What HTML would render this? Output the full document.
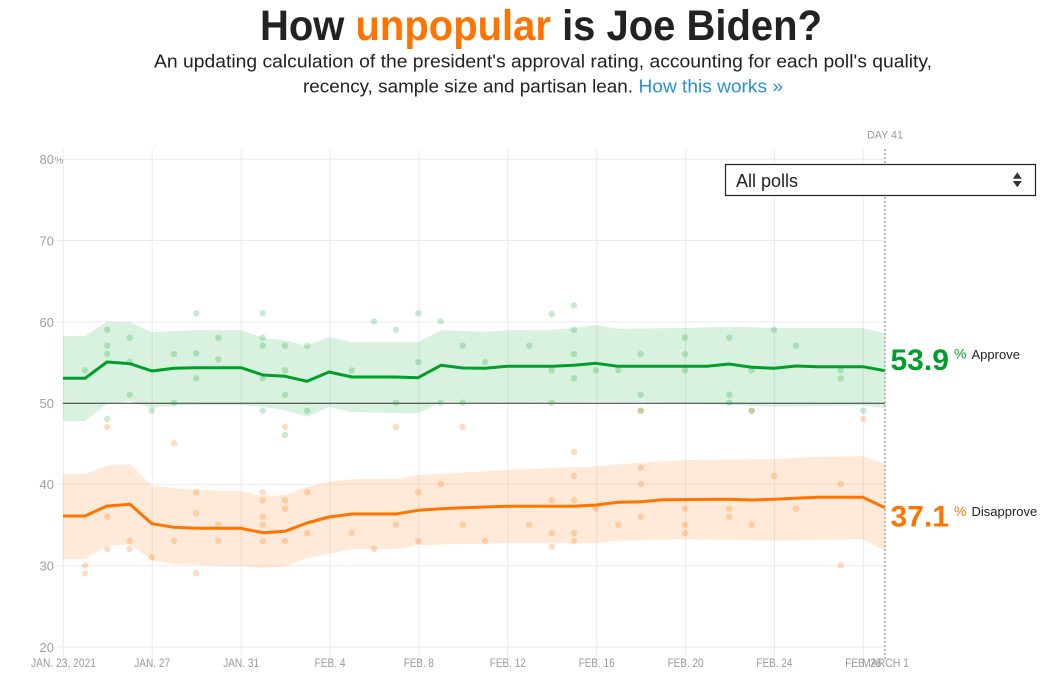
<!DOCTYPE html>
<html><head><meta charset="utf-8"><style>
html,body{margin:0;padding:0;background:#fff;}
svg{display:block;font-family:"Liberation Sans",Arial,sans-serif;}
</style></head><body>
<svg width="1050" height="679" viewBox="0 0 1050 679" xmlns="http://www.w3.org/2000/svg">
<rect width="1050" height="679" fill="#fff"/>
<!-- Title -->
<text transform="translate(260,40) scale(0.93,1)" x="0" y="0" font-size="43" font-weight="bold" fill="#222">How <tspan fill="#ff7400">unpopular</tspan> is Joe Biden?</text>
<text x="154" y="67.5" font-size="18" fill="#222" textLength="778" lengthAdjust="spacingAndGlyphs">An updating calculation of the president's approval rating, accounting for each poll's quality,</text>
<text x="303" y="92.5" font-size="18" fill="#222" textLength="330" lengthAdjust="spacingAndGlyphs">recency, sample size and partisan lean.</text>
<text x="638.5" y="92.5" font-size="18" fill="#2a8fd8" textLength="144.5" lengthAdjust="spacingAndGlyphs">How this works »</text>

<!-- grid -->
<g stroke="#ebebeb" stroke-width="1">
<line x1="63.3" y1="149" x2="63.3" y2="657"/>
<line x1="152.2" y1="149" x2="152.2" y2="657"/>
<line x1="241.1" y1="149" x2="241.1" y2="657"/>
<line x1="330" y1="149" x2="330" y2="657"/>
<line x1="418.9" y1="149" x2="418.9" y2="657"/>
<line x1="507.8" y1="149" x2="507.8" y2="657"/>
<line x1="596.7" y1="149" x2="596.7" y2="657"/>
<line x1="685.6" y1="149" x2="685.6" y2="657"/>
<line x1="774.4" y1="149" x2="774.4" y2="657"/>
<line x1="863.3" y1="149" x2="863.3" y2="657"/>
<line x1="57" y1="159.3" x2="885" y2="159.3"/>
<line x1="57" y1="240.5" x2="885" y2="240.5"/>
<line x1="57" y1="322" x2="885" y2="322"/>
<line x1="57" y1="484.3" x2="885" y2="484.3"/>
<line x1="57" y1="565.8" x2="885" y2="565.8"/>
<line x1="57" y1="647" x2="885" y2="647"/>
</g>

<!-- y labels -->
<g font-size="13" fill="#a0a0a0" text-anchor="end">
<text x="54" y="164.2">80</text>
<text x="54" y="245.3">70</text>
<text x="54" y="326.8">60</text>
<text x="54" y="408.1">50</text>
<text x="54" y="489.1">40</text>
<text x="54" y="570.6">30</text>
<text x="54" y="651.8">20</text>
</g>
<text x="54.5" y="163.5" font-size="10" fill="#a0a0a0">%</text>

<!-- x labels -->
<g font-size="12" fill="#9a9a9a" text-anchor="middle" lengthAdjust="spacingAndGlyphs">
<text x="63.5" y="667" textLength="65" lengthAdjust="spacingAndGlyphs">JAN. 23, 2021</text>
<text x="152.2" y="667" textLength="36" lengthAdjust="spacingAndGlyphs">JAN. 27</text>
<text x="241.1" y="667" textLength="36" lengthAdjust="spacingAndGlyphs">JAN. 31</text>
<text x="330" y="667" textLength="31" lengthAdjust="spacingAndGlyphs">FEB. 4</text>
<text x="418.9" y="667" textLength="30" lengthAdjust="spacingAndGlyphs">FEB. 8</text>
<text x="507.8" y="667" textLength="36" lengthAdjust="spacingAndGlyphs">FEB. 12</text>
<text x="596.7" y="667" textLength="36" lengthAdjust="spacingAndGlyphs">FEB. 16</text>
<text x="685.6" y="667" textLength="36" lengthAdjust="spacingAndGlyphs">FEB. 20</text>
<text x="774.4" y="667" textLength="36" lengthAdjust="spacingAndGlyphs">FEB. 24</text>
<text x="863.3" y="667" textLength="36" lengthAdjust="spacingAndGlyphs">FEB. 28</text>
<text x="885.5" y="667" textLength="47" lengthAdjust="spacingAndGlyphs">MARCH 1</text>
</g>

<!-- bands -->
<polygon fill="#009f29" fill-opacity="0.15" points="63,336 85,336 107,321.7 130,322.3 152,332.3 174,331 196,330.3 241,330.3 263,337.7 285,340.3 307,345.7 329,337 352,342.3 418,342.3 441,330.3 485,331.7 507,330.3 552,329.7 574,328.3 596,325 618,328.7 685,328 729,326.7 774,328 863,328 885,333.3 885,408.3 863,405.3 774,407 752,406 685,402.7 596,401.7 507,402.7 441,402.3 418,413.3 352,412 329,407 307,416.7 285,410.3 263,407 241,405 196,405 174,405.7 152,408.3 130,401 107,404 85,421 63,421"/>
<polygon fill="#ff7400" fill-opacity="0.15" points="63,474 85,474 107,465.7 130,464 152,485.7 174,488.3 196,490 241,491 263,496.3 285,495.3 307,487.3 329,481.7 352,479.3 396,479 418,475 507,470 596,466.3 640,462.7 685,460 774,459 818,456.7 863,456.3 885,463.7 885,551 863,539.3 774,540.7 685,539.3 618,540.7 596,543.3 507,543.3 418,545 396,549 352,549 329,553.7 307,558.3 285,566.3 263,568.3 241,565.7 196,565 174,564 152,560.3 130,544.3 107,545.7 85,559 63,559"/>

<!-- 50 line -->
<line x1="63" y1="403.3" x2="885" y2="403.3" stroke="#333" stroke-width="1"/>

<!-- disapprove points -->
<g fill="#ff7400" fill-opacity="0.25">
<circle cx="196.3" cy="492.3" r="3.2"/><circle cx="262.7" cy="492.3" r="3.2"/><circle cx="262.7" cy="500.3" r="3.2"/><circle cx="285" cy="500.3" r="3.2"/><circle cx="307.3" cy="492.3" r="3.2"/><circle cx="285" cy="508.7" r="3.2"/><circle cx="107.3" cy="516.7" r="3.2"/><circle cx="196.3" cy="513.3" r="3.2"/><circle cx="262.7" cy="516.7" r="3.2"/><circle cx="218.3" cy="524.7" r="3.2"/><circle cx="262.7" cy="524.7" r="3.2"/><circle cx="307.3" cy="533" r="3.2"/><circle cx="129.7" cy="541" r="3.2"/><circle cx="174" cy="541" r="3.2"/><circle cx="218.3" cy="541" r="3.2"/><circle cx="262.7" cy="541" r="3.2"/><circle cx="285" cy="541" r="3.2"/><circle cx="107.3" cy="549" r="3.2"/><circle cx="129.7" cy="549" r="3.2"/><circle cx="151.7" cy="557.3" r="3.2"/><circle cx="85" cy="565.3" r="3.2"/><circle cx="85" cy="573.3" r="3.2"/><circle cx="196.3" cy="573.3" r="3.2"/><circle cx="107.3" cy="427" r="3.2"/><circle cx="285" cy="427" r="3.2"/><circle cx="174" cy="443.3" r="3.2"/>
<circle cx="396" cy="427" r="3.2"/><circle cx="462.7" cy="427" r="3.2"/><circle cx="574" cy="451.7" r="3.2"/><circle cx="574" cy="476" r="3.2"/><circle cx="440.7" cy="484" r="3.2"/><circle cx="418.3" cy="492.3" r="3.2"/><circle cx="551.7" cy="500.3" r="3.2"/><circle cx="574" cy="500.3" r="3.2"/><circle cx="596" cy="508.7" r="3.2"/><circle cx="396" cy="524.7" r="3.2"/><circle cx="462.7" cy="524.7" r="3.2"/><circle cx="529.3" cy="524.7" r="3.2"/><circle cx="351.7" cy="533" r="3.2"/><circle cx="551.7" cy="533" r="3.2"/><circle cx="574" cy="533" r="3.2"/><circle cx="418.3" cy="541" r="3.2"/><circle cx="485" cy="541" r="3.2"/><circle cx="574" cy="541" r="3.2"/><circle cx="374" cy="549" r="3.2"/><circle cx="551.7" cy="546.7" r="3.2"/>
<circle cx="640.7" cy="467.7" r="3.2"/><circle cx="640.7" cy="484" r="3.2"/><circle cx="774" cy="476" r="3.2"/><circle cx="840.7" cy="484" r="3.2"/><circle cx="685" cy="508.7" r="3.2"/><circle cx="729.3" cy="508.7" r="3.2"/><circle cx="796" cy="508.7" r="3.2"/><circle cx="640.7" cy="516.7" r="3.2"/><circle cx="729.3" cy="516.7" r="3.2"/><circle cx="618.3" cy="524.7" r="3.2"/><circle cx="685" cy="524.7" r="3.2"/><circle cx="751.7" cy="524.7" r="3.2"/><circle cx="685" cy="533" r="3.2"/><circle cx="863.3" cy="419" r="3.2"/><circle cx="840.7" cy="565.3" r="3.2"/><circle cx="640.7" cy="410.7" r="3.2"/><circle cx="751.7" cy="410.7" r="3.2"/>
</g>

<!-- approve points -->
<g fill="#009f29" fill-opacity="0.22">
<circle cx="196.3" cy="313.3" r="3.2"/><circle cx="262.7" cy="313.3" r="3.2"/><circle cx="107.3" cy="329.7" r="3.2"/><circle cx="129.7" cy="337.7" r="3.2"/><circle cx="218.3" cy="337.7" r="3.2"/><circle cx="262.7" cy="337.7" r="3.2"/><circle cx="107.3" cy="345.7" r="3.2"/><circle cx="262.7" cy="345.7" r="3.2"/><circle cx="285" cy="345.7" r="3.2"/><circle cx="307.3" cy="345.7" r="3.2"/><circle cx="107.3" cy="354" r="3.2"/><circle cx="174" cy="354" r="3.2"/><circle cx="196.3" cy="353.3" r="3.2"/><circle cx="218.3" cy="359.3" r="3.2"/><circle cx="129.7" cy="361.7" r="3.2"/><circle cx="85" cy="370.3" r="3.2"/><circle cx="285" cy="370.3" r="3.2"/><circle cx="196.3" cy="378.3" r="3.2"/><circle cx="262.7" cy="378.3" r="3.2"/><circle cx="129.7" cy="394.7" r="3.2"/><circle cx="285" cy="394.7" r="3.2"/><circle cx="174" cy="402.7" r="3.2"/><circle cx="151.7" cy="410.7" r="3.2"/><circle cx="262.7" cy="410.7" r="3.2"/><circle cx="307.3" cy="410.7" r="3.2"/><circle cx="107.3" cy="419" r="3.2"/><circle cx="285" cy="435" r="3.2"/>
<circle cx="374" cy="321.3" r="3.2"/><circle cx="418.3" cy="313.3" r="3.2"/><circle cx="440.7" cy="321.3" r="3.2"/><circle cx="396" cy="329.7" r="3.2"/><circle cx="551.7" cy="314" r="3.2"/><circle cx="574" cy="305.3" r="3.2"/><circle cx="574" cy="329.7" r="3.2"/><circle cx="462.7" cy="345.7" r="3.2"/><circle cx="529.3" cy="345.7" r="3.2"/><circle cx="574" cy="354" r="3.2"/><circle cx="418.3" cy="362" r="3.2"/><circle cx="485" cy="362" r="3.2"/><circle cx="351.7" cy="370.3" r="3.2"/><circle cx="551.7" cy="370.3" r="3.2"/><circle cx="596" cy="370.3" r="3.2"/><circle cx="574" cy="378.3" r="3.2"/><circle cx="396" cy="402.7" r="3.2"/><circle cx="440.7" cy="402.7" r="3.2"/><circle cx="462.7" cy="402.7" r="3.2"/><circle cx="551.7" cy="402.7" r="3.2"/>
<circle cx="618.3" cy="370.3" r="3.2"/><circle cx="640.7" cy="354" r="3.2"/><circle cx="640.7" cy="394.7" r="3.2"/><circle cx="685" cy="337.7" r="3.2"/><circle cx="685" cy="354" r="3.2"/><circle cx="685" cy="370.3" r="3.2"/><circle cx="729.3" cy="337.7" r="3.2"/><circle cx="729.3" cy="394.7" r="3.2"/><circle cx="729.3" cy="402.7" r="3.2"/><circle cx="751.7" cy="370.3" r="3.2"/><circle cx="774" cy="329.7" r="3.2"/><circle cx="796" cy="345.7" r="3.2"/><circle cx="840.7" cy="370.3" r="3.2"/><circle cx="840.7" cy="378.3" r="3.2"/><circle cx="863.3" cy="410.7" r="3.2"/><circle cx="640.7" cy="410.7" r="3.2"/><circle cx="751.7" cy="410.7" r="3.2"/>
</g>

<!-- lines -->
<polyline fill="none" stroke="#009f29" stroke-width="3" stroke-linejoin="round" points="63,378.3 85,378.3 107,362 130,363.7 152,371 174,368.3 196,367.7 241,367.7 263,375 285,376.3 307,381.3 329,372 352,377 396,377 418,377.7 441,365.3 463,368 485,368.3 507,366.3 552,366.3 574,365.3 596,363.3 618,366.3 707,366.3 729,364 752,367.3 774,368.3 796,366 818,366.7 863,366.7 885,370.7"/>
<polyline fill="none" stroke="#ff7400" stroke-width="3" stroke-linejoin="round" points="63,516 85,516 107,506 130,504.3 152,523.7 174,527.3 196,528.3 241,528.3 263,532.7 285,531.3 307,523 329,517 352,514 396,514 418,510.3 441,508.7 463,507.7 507,506.3 574,506.3 596,505 618,502.3 641,501.7 663,499.7 729,499.3 752,500 774,499.3 818,497.3 863,497.3 885,507.7"/>

<!-- day marker -->
<line x1="885" y1="149" x2="885" y2="660" stroke="#999" stroke-width="1.3" stroke-dasharray="2,2"/>
<text x="885" y="138.5" font-size="11" fill="#9a9a9a" text-anchor="middle" textLength="36" lengthAdjust="spacingAndGlyphs">DAY 41</text>

<!-- dropdown -->
<rect x="725.5" y="164.5" width="310" height="31" fill="#fff" stroke="#222" stroke-width="1.2"/>
<text x="736" y="187" font-size="18" fill="#222">All polls</text>
<polygon points="1012.8,178.7 1021.8,178.7 1017.3,172.3" fill="#333"/>
<polygon points="1012.8,181 1021.8,181 1017.3,187.3" fill="#333"/>

<!-- end labels -->
<text x="890.5" y="370" font-size="30" font-weight="bold" fill="#009f29">53.9</text>
<text x="954" y="358.5" font-size="14" fill="#009f29">%</text>
<text x="971.5" y="359" font-size="13" fill="#222">Approve</text>
<text x="890.5" y="526.7" font-size="30" font-weight="bold" fill="#ff7400">37.1</text>
<text x="954" y="516" font-size="14" fill="#ff7400">%</text>
<text x="971.5" y="516" font-size="13" fill="#222">Disapprove</text>
</svg>
</body></html>
